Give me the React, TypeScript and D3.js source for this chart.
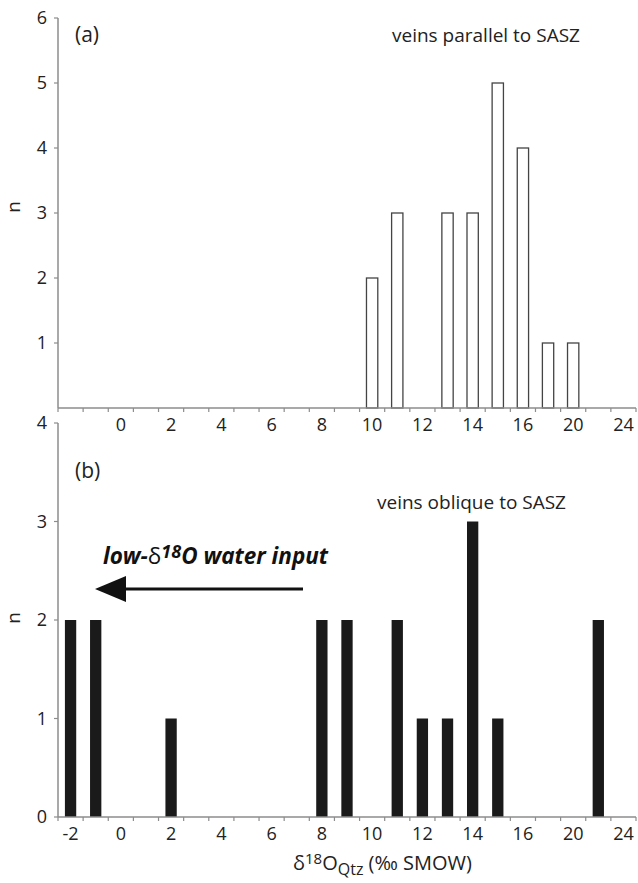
import React from "react";
import * as d3 from "d3";

// Category axis (Excel-style categorical bins), labels on every second category
const categories = [
  "-2", "-1", "0", "1", "2", "3", "4", "5", "6", "7", "8", "9", "10",
  "11", "12", "13", "14", "15", "16", "18", "20", "22", "24",
];
const topTickLabels = ["", "0", "2", "4", "6", "8", "10", "12", "14", "16", "20", "24"];
const bottomTickLabels = ["-2", "0", "2", "4", "6", "8", "10", "12", "14", "16", "20", "24"];

// (a) veins parallel to SASZ
const parallelCats = ["10", "11", "13", "14", "15", "16", "18", "20"];
const parallelCounts = [2, 3, 3, 3, 5, 4, 1, 1];

// (b) veins oblique to SASZ
const obliqueCats = ["-2", "-1", "2", "8", "9", "11", "12", "13", "14", "15", "22"];
const obliqueCounts = [2, 2, 1, 2, 2, 2, 1, 1, 3, 1, 2];

const topYTicks = [1, 2, 3, 4, 5, 6];
const bottomYTicks = [0, 1, 2, 3, 4];

const FONT = "'Open Sans', 'Noto Sans', sans-serif";
const AXIS = "#8c8c8c";

export default function App() {
  const W = 638;
  const H = 883;
  const x = d3.scaleBand<string>().domain(categories).range([58, 636]).padding(0);
  const bw = x.bandwidth();
  const barW = bw * 0.45;
  const yTop = d3.scaleLinear().domain([0, 6]).range([408, 18]);
  const yBot = d3.scaleLinear().domain([0, 4]).range([817, 423]);

  const boundaries = d3.range(categories.length + 1).map((i) => 58 + i * bw);
  const labelCats = categories.filter((_, i) => i % 2 === 0);

  const xAxis = (y0: number, labels: string[]) => (
    <g>
      <line x1={58} x2={636} y1={y0} y2={y0} stroke={AXIS} strokeWidth={1.5} />
      {boundaries.map((bx, i) => (
        <line key={i} x1={bx} x2={bx} y1={y0} y2={y0 + 4} stroke={AXIS} strokeWidth={1.2} />
      ))}
      {labelCats.map((c, i) => (
        <text
          key={c}
          x={(x(c) as number) + bw / 2}
          y={y0 + 23}
          textAnchor="middle"
          fontSize={18}
          fontFamily={FONT}
          fill="#222"
        >
          {labels[i]}
        </text>
      ))}
    </g>
  );

  const yAxis = (scale: d3.ScaleLinear<number, number>, ticks: number[]) => (
    <g>
      <line x1={58} x2={58} y1={scale.range()[1]} y2={scale.range()[0]} stroke={AXIS} strokeWidth={1.5} />
      {ticks.map((t) => (
        <g key={t}>
          <line x1={54} x2={58} y1={scale(t)} y2={scale(t)} stroke={AXIS} strokeWidth={1.2} />
          <text
            x={47}
            y={scale(t)}
            dy="0.35em"
            textAnchor="end"
            fontSize={18}
            fontFamily={FONT}
            fill="#222"
          >
            {t}
          </text>
        </g>
      ))}
    </g>
  );

  return (
    <svg
      width={W}
      height={H}
      style={{ position: "absolute", left: 0, top: 0, background: "#fff" }}
    >
      <rect x={0} y={0} width={W} height={H} fill="#fff" />

      {/* ---------- panel (a) ---------- */}
      {parallelCats.map((c, i) => (
        <rect
          key={c}
          x={(x(c) as number) + (bw - barW) / 2}
          y={yTop(parallelCounts[i])}
          width={barW}
          height={yTop(0) - yTop(parallelCounts[i])}
          fill="#fff"
          stroke="#444"
          strokeWidth={1.3}
        />
      ))}
      {yAxis(yTop, topYTicks)}
      {xAxis(408, topTickLabels)}
      <text x={75} y={42} fontSize={21} fontFamily={FONT} fill="#222">(a)</text>
      <text x={392} y={42} fontSize={19} fontFamily={FONT} fill="#222">veins parallel to SASZ</text>
      <text
        transform="translate(20,207) rotate(-90)"
        textAnchor="middle"
        fontSize={19}
        fontFamily={FONT}
        fill="#222"
      >
        n
      </text>

      {/* ---------- panel (b) ---------- */}
      {obliqueCats.map((c, i) => (
        <rect
          key={c}
          x={(x(c) as number) + (bw - barW) / 2}
          y={yBot(obliqueCounts[i])}
          width={barW}
          height={yBot(0) - yBot(obliqueCounts[i])}
          fill="#1a1a1a"
        />
      ))}
      {yAxis(yBot, bottomYTicks)}
      {xAxis(817, bottomTickLabels)}
      <text x={75} y={478} fontSize={21} fontFamily={FONT} fill="#222">(b)</text>
      <text x={377} y={509} fontSize={19} fontFamily={FONT} fill="#222">veins oblique to SASZ</text>
      <text
        transform="translate(20,618) rotate(-90)"
        textAnchor="middle"
        fontSize={19}
        fontFamily={FONT}
        fill="#222"
      >
        n
      </text>

      {/* arrow annotation */}
      <text x={103} y={564} fontSize={22.5} fontWeight="bold" fontStyle="italic" fontFamily={FONT} fill="#111">
        low-<tspan fontWeight="normal" fontStyle="normal">δ</tspan>
        <tspan fontSize={18} dy={-6}>18</tspan>
        <tspan dy={6}>O water input</tspan>
      </text>
      <line x1={122} x2={303} y1={589} y2={589} stroke="#111" strokeWidth={3} />
      <path d="M95,589 L126,576 L126,602 Z" fill="#111" />

      {/* x-axis title */}
      <text x={293} y={870} fontSize={20} fontFamily={FONT} fill="#222">
        δ<tspan fontSize={15} dy={-6}>18</tspan>
        <tspan dy={6}>O</tspan>
        <tspan fontSize={16} dy={5}>Qtz</tspan>
        <tspan dy={-5}> (‰ SMOW)</tspan>
      </text>
    </svg>
  );
}
